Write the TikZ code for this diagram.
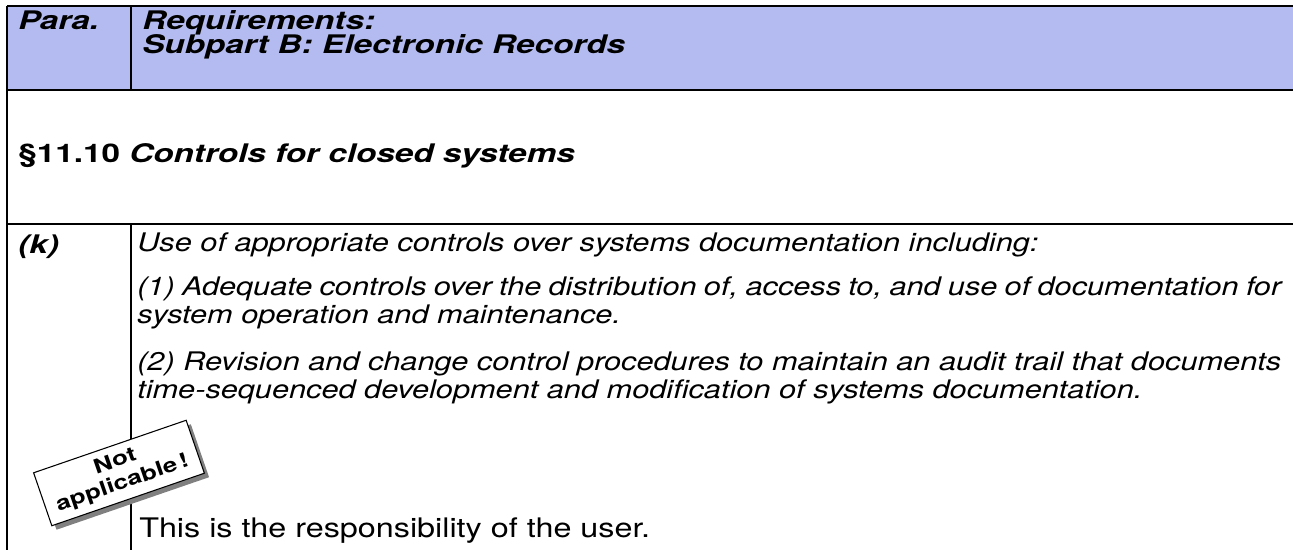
\documentclass[tikz,border=0pt]{standalone}
\usepackage{fontspec}
\setmainfont{TeX Gyre Heros}[FakeStretch=1.2]
\newfontfamily\headfont{TeX Gyre Heros}[FakeStretch=1.3]
\usetikzlibrary{shadows}
\definecolor{headblue}{RGB}{179,187,240}
\tikzset{
  rule/.style={line width=1.5pt},
  cell/.style={anchor=base west, inner sep=0pt},
  headtext/.style={cell, font=\headfont\fontsize{19.2}{18}\selectfont\bfseries\itshape},
  bodytext/.style={cell, text width=858pt, align=justify,
    font=\fontsize{19.2}{21}\selectfont\itshape},
  stamp/.style={draw, fill=white, line width=0.8pt, align=center,
    minimum width=121pt, minimum height=42pt, inner sep=2pt,
    font=\headfont\fontsize{15}{17}\selectfont\bfseries,
    drop shadow={fill=black!50, opacity=1, shadow xshift=3.5pt, shadow yshift=-3pt}}
}
\begin{document}
\begin{tikzpicture}[x=0.75pt, y=-0.75pt]
\useasboundingbox (0,0) rectangle (1293,550);
% Header band
\fill[headblue] (7,6) rectangle (1293,89.5);
% Table rules
\draw[rule] (7,6) -- (1293,6);
\draw[rule] (7,89.5) -- (1293,89.5);
\draw[rule] (7,223.5) -- (1293,223.5);
\draw[rule] (7,6) -- (7,550);
\draw[rule] (131,6) -- (131,89.5);
\draw[rule] (131,223.5) -- (131,550);
% Header texts
\node[headtext] (para) at (18,29.5) {Para.};
\node[headtext] (reqa) at (142,29.5) {Requirements:};
\node[headtext] (reqb) at (142,53.5) {Subpart B: Electronic Records};
% Section
\node[headtext, font=\headfont\fontsize{19.2}{18}\selectfont\bfseries] (sect) at (18,162)
  {\S11.10 \textit{Controls for closed systems}};
% Row (k)
\node[headtext] (itemk) at (18,253) {(k)};
\node[bodytext] (use) at (137,251)
  {Use of appropriate controls over systems documentation including:};
\node[bodytext] (one) at (137,295)
  {(1) Adequate controls over the distribution of, access to, and use of documentation for\linebreak system operation and maintenance.};
\node[bodytext] (two) at (137,370)
  {(2) Revision and change control procedures to maintain an audit trail that documents\linebreak time-sequenced development and modification of systems documentation.};
% Stamp
\node[stamp, rotate=19] (notapp) at (119,473) {Not\\applicable\,!};
\node[cell, font=\fontsize{20.2}{21}\selectfont] (user) at (139,537)
  {This is the responsibility of the user.};
\end{tikzpicture}
\end{document}
